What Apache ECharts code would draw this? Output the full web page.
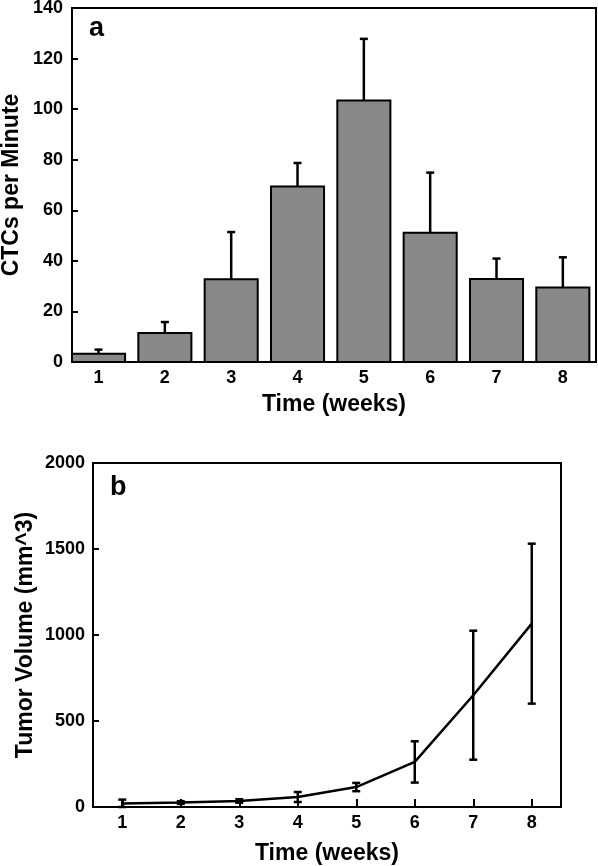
<!DOCTYPE html>
<html>
<head>
<meta charset="utf-8">
<script src="https://cdn.jsdelivr.net/npm/echarts@6/dist/echarts.min.js"></script>
<style>
html,body{margin:0;padding:0;background:#fff;}
#chart{width:598px;height:866px;}
</style>
</head>
<body>
<div id="chart"></div>
<script>
// ---- data ----
const weeks = [1, 2, 3, 4, 5, 6, 7, 8];
const weekLabels = ['1', '2', '3', '4', '5', '6', '7', '8'];
const ctcMean = [3.3, 11.5, 32.7, 69.4, 103.4, 51.1, 32.8, 29.5];
const ctcErr = [1.6, 4.3, 18.7, 9.3, 24.4, 23.8, 8.1, 11.9];
const volMean = [20, 26, 35, 58, 116, 262, 650, 1066];
const volErr = [23, 8, 10, 29, 24, 120, 375, 465];
const ctcTicks = [0, 20, 40, 60, 80, 100, 120, 140];
const volTicks = [0, 500, 1000, 1500, 2000];

const FONT = 'Liberation Sans';
const BAR_HALF = 0.4; // half bar width in axis units
const chart = echarts.init(document.getElementById('chart'), null, {renderer: 'canvas'});

function errRender(drawLower) {
  return function (params, api) {
    const x = api.value(0);
    const lo = api.value(1);
    const hi = api.value(2);
    const pHi = api.coord([x, hi]);
    const pLo = api.coord([x, lo]);
    const half = 4;
    const style = {stroke: '#000', lineWidth: 2.5};
    const children = [
      {type: 'line', shape: {x1: pLo[0], y1: pLo[1], x2: pHi[0], y2: pHi[1]}, style: style},
      {type: 'line', shape: {x1: pHi[0] - half, y1: pHi[1], x2: pHi[0] + half, y2: pHi[1]}, style: style}
    ];
    if (drawLower) {
      children.push({type: 'line', shape: {x1: pLo[0] - half, y1: pLo[1], x2: pLo[0] + half, y2: pLo[1]}, style: style});
    }
    return {type: 'group', children: children};
  };
}

function barRender(params, api) {
  const x = api.value(0);
  const v = api.value(1);
  const p0 = api.coord([x - BAR_HALF, v]);
  const p1 = api.coord([x + BAR_HALF, 0]);
  return {
    type: 'rect',
    shape: {x: p0[0], y: p0[1], width: p1[0] - p0[0], height: p1[1] - p0[1]},
    style: {fill: '#888888', stroke: '#000', lineWidth: 2}
  };
}

const intLabel = v => (Math.abs(v - Math.round(v)) < 1e-6 ? String(Math.round(v)) : '');
const labelStyle = {color: '#000', fontFamily: FONT, fontWeight: 'bold', fontSize: 18};
const nameStyle = {color: '#000', fontFamily: FONT, fontWeight: 'bold', fontSize: 23};

const option = {
  animation: false,
  backgroundColor: '#fff',
  graphic: [
    {type: 'text', left: 89, top: 15, style: {text: 'a', fontFamily: FONT, fontWeight: 'bold', fontSize: 27, fill: '#000'}},
    {type: 'text', left: 110, top: 474, style: {text: 'b', fontFamily: FONT, fontWeight: 'bold', fontSize: 27, fill: '#000'}}
  ],
  grid: [
    {left: 72, top: 8, width: 524, height: 354, show: true, borderColor: '#000', borderWidth: 2, backgroundColor: 'transparent', containLabel: false, outerBoundsMode: 'none'},
    {left: 93, top: 463, width: 468, height: 344, show: true, borderColor: '#000', borderWidth: 2, backgroundColor: 'transparent', containLabel: false, outerBoundsMode: 'none'}
  ],
  xAxis: [
    {
      type: 'value', gridIndex: 0, min: 0.6, max: 8.5, interval: 0.1,
      name: 'Time (weeks)', nameLocation: 'middle', nameGap: 31, nameTextStyle: nameStyle,
      axisLine: {show: true, lineStyle: {color: '#000', width: 2}},
      axisTick: {show: false},
      splitLine: {show: false},
      axisLabel: {formatter: intLabel, margin: 7, ...labelStyle}
    },
    {
      type: 'category', gridIndex: 1, data: weekLabels, boundaryGap: true,
      name: 'Time (weeks)', nameLocation: 'middle', nameGap: 35, nameTextStyle: nameStyle,
      axisLine: {show: true, lineStyle: {color: '#000', width: 2}},
      axisTick: {show: true, inside: true, length: 8, alignWithLabel: true, lineStyle: {color: '#000', width: 2}},
      splitLine: {show: false},
      axisLabel: {margin: 7, interval: 0, ...labelStyle}
    }
  ],
  yAxis: [
    {
      type: 'value', gridIndex: 0, min: ctcTicks[0], max: ctcTicks[ctcTicks.length - 1], interval: ctcTicks[1] - ctcTicks[0],
      name: 'CTCs per Minute', nameLocation: 'middle', nameGap: 49, nameMoveOverlap: false, nameTextStyle: nameStyle,
      axisLine: {show: true, lineStyle: {color: '#000', width: 2}},
      axisTick: {show: true, inside: true, length: 6, lineStyle: {color: '#000', width: 2}},
      splitLine: {show: false},
      axisLabel: {margin: 9, formatter: v => String(v), ...labelStyle}
    },
    {
      type: 'value', gridIndex: 1, min: volTicks[0], max: volTicks[volTicks.length - 1], interval: volTicks[1] - volTicks[0],
      name: 'Tumor Volume (mm^3)', nameLocation: 'middle', nameGap: 56, nameMoveOverlap: false, nameTextStyle: nameStyle,
      axisLine: {show: true, lineStyle: {color: '#000', width: 2}},
      axisTick: {show: true, inside: true, length: 6, lineStyle: {color: '#000', width: 2}},
      splitLine: {show: false},
      axisLabel: {margin: 8, formatter: v => String(v), ...labelStyle}
    }
  ],
  series: [
    {
      type: 'custom', xAxisIndex: 0, yAxisIndex: 0,
      renderItem: barRender,
      data: weeks.map((w, i) => [w, ctcMean[i]]),
      z: 2
    },
    {
      type: 'custom', xAxisIndex: 0, yAxisIndex: 0,
      renderItem: errRender(false),
      data: weeks.map((w, i) => [w, ctcMean[i], ctcMean[i] + ctcErr[i]]),
      z: 3
    },
    {
      type: 'line', xAxisIndex: 1, yAxisIndex: 1, symbol: 'none',
      data: volMean.map((v, i) => [i, v]),
      lineStyle: {color: '#000', width: 2.5},
      z: 3
    },
    {
      type: 'custom', xAxisIndex: 1, yAxisIndex: 1,
      renderItem: errRender(true),
      data: volMean.map((v, i) => [i, Math.max(0, v - volErr[i]), v + volErr[i]]),
      z: 4
    }
  ]
};
chart.setOption(option);
</script>
</body>
</html>
